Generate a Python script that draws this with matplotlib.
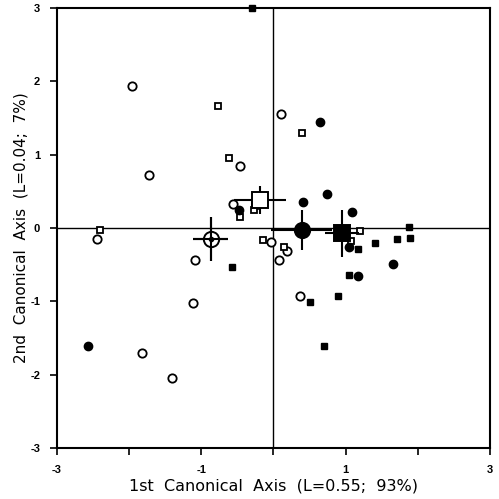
import matplotlib
matplotlib.use("Agg")
import matplotlib.pyplot as plt

# Group 1: open circles
oc_x = [-1.96, -1.73, -0.47, -0.56, -2.44, -1.09, -1.11, -1.82, -1.40, -0.03, 0.19, 0.08, 0.11, 0.37]
oc_y = [1.93, 0.72, 0.85, 0.33, -0.15, -0.44, -1.02, -1.70, -2.05, -0.19, -0.31, -0.44, 1.55, -0.92]
# Group 2: open squares
os_x = [-0.77, -0.61, -0.46, -0.26, -0.27, -2.40, -0.14, 0.14, 0.40, 1.20, 1.08]
os_y = [1.66, 0.95, 0.15, 0.30, 0.25, -0.02, -0.16, -0.26, 1.29, -0.04, -0.17]
# Group 3: filled circles
fc_x = [-0.48, -2.57, 0.64, 0.74, 0.41, 1.09, 1.05, 1.66, 1.17]
fc_y = [0.25, -1.61, 1.45, 0.46, 0.35, 0.22, -0.26, -0.49, -0.65]
# Group 4: filled squares
fs_x = [-0.30, -0.58, 1.88, 1.89, 1.71, 1.40, 1.17, 1.04, 0.50, 0.90, 0.70]
fs_y = [3.00, -0.53, 0.02, -0.14, -0.15, -0.20, -0.28, -0.64, -1.01, -0.92, -1.61]

# Group centroids and error bars
cen_x = [-0.87, -0.19, 0.39, 0.95]
cen_y = [-0.15, 0.38, -0.03, -0.07]
cen_xerr = [0.24, 0.36, 0.42, 0.24]
cen_yerr = [0.30, 0.19, 0.27, 0.32]

x_ticks = [-3, -2, -1, 0, 1, 2, 3]
x_ticklabels = ["-3", "", "-1", "", "1", "", "3"]
y_ticks = [-3, -2, -1, 0, 1, 2, 3]
y_ticklabels = ["-3", "-2", "-1", "0", "1", "2", "3"]

fig = plt.figure(figsize=(4.99, 4.99), dpi=100)
ax = fig.add_axes([0.114, 0.102, 0.868, 0.882])
ax.set_xlim(-3, 3)
ax.set_ylim(-3, 3)

ax.axhline(0, color="black", lw=1.0, zorder=1)
ax.axvline(0, color="black", lw=1.0, zorder=1)

ax.plot(oc_x, oc_y, "o", ms=6, mfc="white", mec="black", mew=1.3, ls="none", zorder=3, clip_on=False)
ax.plot(os_x, os_y, "s", ms=5, mfc="white", mec="black", mew=1.3, ls="none", zorder=3, clip_on=False)
ax.plot(fc_x, fc_y, "o", ms=6, mfc="black", mec="black", mew=1.0, ls="none", zorder=3, clip_on=False)
ax.plot(fs_x, fs_y, "s", ms=5, mfc="black", mec="black", mew=1.0, ls="none", zorder=3, clip_on=False)

styles = [("o", "white"), ("s", "white"), ("o", "black"), ("s", "black")]
for i, (m, fc) in enumerate(styles):
    ax.errorbar(cen_x[i], cen_y[i], xerr=cen_xerr[i], yerr=cen_yerr[i], fmt="none",
                ecolor="black", elinewidth=1.5, capsize=0, zorder=4)
    ax.plot(cen_x[i], cen_y[i], m, ms=11, mfc=fc, mec="black", mew=1.4, zorder=5)
# center dot of open-circle centroid
ax.plot(cen_x[0], cen_y[0], "o", ms=3, mfc="black", mec="black", zorder=6)
ax.errorbar(cen_x[0], cen_y[0], xerr=cen_xerr[0], yerr=cen_yerr[0], fmt="none",
            ecolor="black", elinewidth=1.5, capsize=0, zorder=6)

for s in ax.spines.values():
    s.set_linewidth(1.5)
    s.set_color("black")

ax.set_xticks(x_ticks)
ax.set_xticklabels(x_ticklabels)
ax.set_yticks(y_ticks)
ax.set_yticklabels(y_ticklabels)
ax.tick_params(direction="out", length=5, width=1.2, labelsize=8, pad=7)
for lab in ax.get_xticklabels() + ax.get_yticklabels():
    lab.set_fontweight("bold")
    lab.set_family("Liberation Sans")

ax.set_xlabel("1st  Canonical  Axis  (L=0.55;  93%)", fontsize=11.5, family="DejaVu Sans", labelpad=3)
ax.set_ylabel("2nd  Canonical  Axis  (L=0.04;  7%)", fontsize=11, family="DejaVu Sans", labelpad=1)

fig.savefig("out.png", dpi=100)
